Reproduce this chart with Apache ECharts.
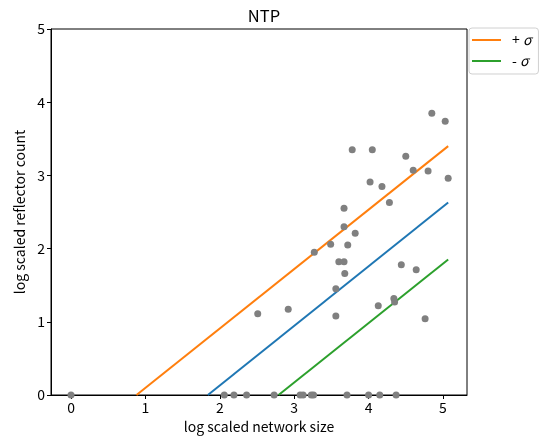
<!DOCTYPE html>
<html>
<head>
<meta charset="utf-8">
<script src="https://cdn.jsdelivr.net/npm/echarts@6/dist/echarts.min.js"></script>
<style>
  html, body { margin: 0; padding: 0; background: #fff; }
  #chart { width: 542px; height: 439px; }
</style>
</head>
<body>
<div id="chart"></div>
<script>
// 散点数据 (log network size, log reflector count)
var points = [
  [0, 0],
  [2.06, 0], [2.19, 0], [2.36, 0], [2.73, 0], [3.08, 0], [3.12, 0],
  [3.23, 0], [3.26, 0], [3.71, 0], [4.00, 0], [4.15, 0], [4.37, 0],
  [2.51, 1.11], [2.92, 1.17], [3.27, 1.95], [3.49, 2.06], [3.56, 1.08],
  [3.56, 1.45], [3.60, 1.82], [3.67, 1.82], [3.67, 2.30], [3.67, 2.55],
  [3.68, 1.66], [3.72, 2.05], [3.82, 2.21], [3.78, 3.35], [4.05, 3.35],
  [4.02, 2.91], [4.18, 2.85], [4.28, 2.63], [4.13, 1.22], [4.34, 1.32],
  [4.35, 1.27], [4.44, 1.78], [4.50, 3.26], [4.60, 3.07], [4.64, 1.71],
  [4.80, 3.06], [4.76, 1.04], [4.85, 3.85], [5.03, 3.74], [5.07, 2.96]
];
// 拟合线及 ±σ
var fitLine = [[1.84, 0], [5.07, 2.63]];
var plusLine = [[0.88, 0], [5.07, 3.40]];
var minusLine = [[2.79, 0], [5.07, 1.85]];
var xTicks = [0, 1, 2, 3, 4, 5];

var font = '"Noto Sans CJK JP", "DejaVu Sans", sans-serif';
var chart = echarts.init(document.getElementById('chart'));

var option = {
  animation: false,
  backgroundColor: '#fff',
  title: {
    text: 'NTP',
    left: 259,
    top: 2,
    textAlign: 'center',
    textStyle: { fontFamily: font, fontSize: 16.5, fontWeight: 'normal', color: '#000' }
  },
  legend: {
    left: 469,
    top: 28,
    orient: 'vertical',
    data: ['+ σ', '- σ'],
    icon: 'rect',
    itemWidth: 29,
    itemHeight: 2,
    itemGap: 7,
    padding: [5, 7, 6, 3],
    borderColor: '#d0d0d0',
    borderWidth: 1,
    borderRadius: 3,
    formatter: function (name) {
      return name.charAt(0) + ' {i|σ}';
    },
    textStyle: {
      fontFamily: font, fontSize: 14, color: '#000', padding: [0, 0, 0, 6],
      rich: { i: { fontFamily: font, fontSize: 14, fontStyle: 'italic' } }
    }
  },
  grid: {
    left: 51, top: 29, right: 75, bottom: 44,
    show: true, borderColor: '#000', borderWidth: 1
  },
  xAxis: {
    type: 'value',
    min: -0.269,
    max: 5.323,
    name: 'log scaled network size',
    nameLocation: 'middle',
    nameGap: 24,
    nameTextStyle: { fontFamily: font, fontSize: 14, color: '#000' },
    splitLine: { show: false },
    axisLine: { show: true, onZero: false, lineStyle: { color: '#000' } },
    axisTick: { show: true, length: 4, customValues: xTicks, lineStyle: { color: '#000' } },
    axisLabel: { customValues: xTicks, margin: 6, fontFamily: font, fontSize: 14, color: '#000' }
  },
  yAxis: {
    type: 'value',
    min: 0,
    max: 5,
    interval: 1,
    name: 'log scaled reflector count',
    nameLocation: 'middle',
    nameGap: 24,
    nameTextStyle: { fontFamily: font, fontSize: 14, color: '#000' },
    splitLine: { show: false },
    axisLine: { show: true, onZero: false, lineStyle: { color: '#000' } },
    axisTick: { show: true, length: 4, lineStyle: { color: '#000' } },
    axisLabel: { margin: 6, fontFamily: font, fontSize: 14, color: '#000' }
  },
  series: [
    {
      name: 'fit', type: 'line', data: fitLine, showSymbol: false, symbol: 'none',
      lineStyle: { color: '#1f77b4', width: 2 }, z: 2
    },
    {
      name: '+ σ', type: 'line', data: plusLine, showSymbol: false, symbol: 'none',
      itemStyle: { color: '#ff7f0e' },
      lineStyle: { color: '#ff7f0e', width: 2 }, z: 2
    },
    {
      name: '- σ', type: 'line', data: minusLine, showSymbol: false, symbol: 'none',
      itemStyle: { color: '#2ca02c' },
      lineStyle: { color: '#2ca02c', width: 2 }, z: 2
    },
    {
      name: 'points', type: 'scatter', data: points, symbolSize: 7,
      itemStyle: { color: '#808080', opacity: 1 }, z: 3
    }
  ]
};
chart.setOption(option);
</script>
</body>
</html>
